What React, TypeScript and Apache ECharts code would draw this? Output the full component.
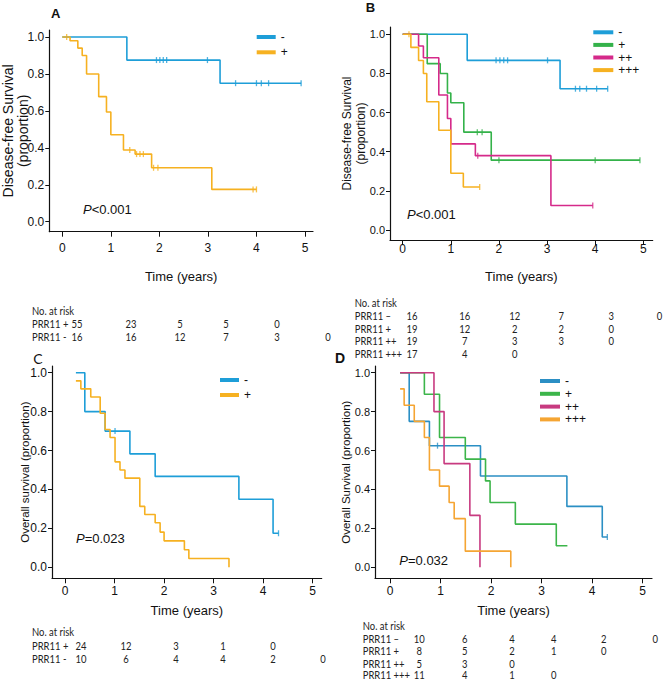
import React, { useEffect, useRef } from 'react';
import * as echarts from 'echarts';

// ---------------- Panel A: disease-free survival, PRR11 − / + ----------------
const aNegT = [0, 1.33, 3.25, 4.92];
const aNegS = [1, 0.875, 0.75, 0.75];
const aNegCens = [1.94, 2.01, 2.08, 2.15, 2.99, 3.57, 4.0, 4.1, 4.25, 4.92];
const aPosT = [0, 0.16, 0.32, 0.41, 0.5, 0.75, 0.91, 1.0, 1.26, 1.5, 1.84, 3.08, 4.0];
const aPosS = [1, 0.98, 0.94, 0.9, 0.8, 0.677, 0.594, 0.471, 0.388, 0.366, 0.292, 0.175, 0.175];
const aPosCens = [0.09, 1.39, 1.53, 1.6, 1.67, 1.88, 1.97, 3.93, 4.0];

// ---------------- Panel B: disease-free survival, − / + / ++ / +++ ----------------
const bNegT = [0, 1.34, 3.27, 4.26];
const bNegS = [1, 0.867, 0.722, 0.722];
const bNegCens = [1.94, 2.02, 2.1, 2.18, 3.01, 3.59, 3.68, 3.82, 4.03, 4.26];
const bP1T = [0, 0.51, 0.78, 0.93, 1.0, 1.27, 1.84, 4.93];
const bP1S = [1, 0.85, 0.8, 0.7, 0.65, 0.5, 0.357, 0.357];
const bP1Cens = [1.55, 1.65, 2.0, 4.0, 4.93];
const bP2T = [0, 0.33, 0.43, 0.75, 0.93, 1.0, 1.51, 3.08, 3.95];
const bP2S = [1, 0.94, 0.88, 0.69, 0.57, 0.44, 0.38, 0.125, 0.125];
const bP2Cens = [1.56, 3.95];
const bP3T = [0, 0.17, 0.33, 0.43, 0.5, 0.75, 1.0, 1.26, 1.6];
const bP3S = [1, 0.933, 0.866, 0.8, 0.655, 0.51, 0.29, 0.22, 0.22];
const bP3Cens = [0.13, 1.6];

// ---------------- Panel C: overall survival, − / + ----------------
const cNegT = [0.22, 0.4, 0.81, 1.31, 1.82, 3.51, 4.2, 4.31];
const cNegS = [1, 0.8, 0.7, 0.583, 0.467, 0.35, 0.175, 0.175];
const cNegCens = [1.01, 4.31];
const cPosT = [0.22, 0.32, 0.52, 0.71, 0.81, 0.91, 1.01, 1.11, 1.21, 1.51, 1.61, 1.82, 1.92, 2.0, 2.41, 2.5, 3.31];
const cPosS = [0.958, 0.917, 0.875, 0.792, 0.708, 0.667, 0.542, 0.5, 0.458, 0.313, 0.271, 0.229, 0.181, 0.136, 0.09, 0.045, 0];
const cPosCens: number[] = [];

// ---------------- Panel D: overall survival, − / + / ++ / +++ ----------------
const dNegT = [0.2, 0.38, 0.78, 1.79, 3.5, 4.2, 4.3];
const dNegS = [1, 0.75, 0.625, 0.469, 0.313, 0.156, 0.156];
const dNegCens = [0.94, 4.3];
const dP1T = [0.2, 0.68, 0.98, 1.49, 1.89, 1.98, 2.48, 3.29, 3.51];
const dP1S = [1, 0.889, 0.667, 0.556, 0.444, 0.333, 0.222, 0.111, 0.111];
const dP1Cens: number[] = [];
const dP2T = [0.2, 0.87, 1.07, 1.58, 1.78];
const dP2S = [1, 0.8, 0.533, 0.267, 0];
const dP2Cens: number[] = [];
const dP3T = [0.2, 0.28, 0.48, 0.68, 0.78, 0.98, 1.17, 1.27, 1.49, 2.39];
const dP3S = [0.917, 0.833, 0.75, 0.667, 0.5, 0.417, 0.333, 0.25, 0.083, 0];
const dP3Cens: number[] = [];

// ---------------- ticks, labels ----------------
const xTicks = [0, 1, 2, 3, 4, 5];
const yTicks = [0, 0.2, 0.4, 0.6, 0.8, 1.0];
const panelLetters = ['A', 'B', 'C', 'D'];
const pValues = ['<0.001', '<0.001', '=0.023', '=0.032'];
const yTitles = [
  'Disease-free Survival\n(proportion)',
  'Disease-free Survival\n(proportion)',
  'Overall survival (proportion)',
  'Overall Survival (proportion)',
];
const xTitle = 'Time (years)';

// ---------------- number-at-risk tables ----------------
const riskHeader = 'No. at risk';
const aRiskLabels = ['PRR11 +', 'PRR11 -'];
const aRiskRows = [[55, 23, 5, 5, 0], [16, 16, 12, 7, 3, 0]];
const bRiskLabels = ['PRR11 \u2013', 'PRR11 +', 'PRR11 ++', 'PRR11 +++'];
const bRiskRows = [[16, 16, 12, 7, 3, 0], [19, 12, 2, 2, 0], [19, 7, 3, 3, 0], [17, 4, 0]];
const cRiskLabels = ['PRR11 +', 'PRR11 -'];
const cRiskRows = [[24, 12, 3, 1, 0], [10, 6, 4, 4, 2, 0]];
const dRiskLabels = ['PRR11 \u2013', 'PRR11 +', 'PRR11 ++', 'PRR11 +++'];
const dRiskRows = [[10, 6, 4, 4, 2, 0], [8, 5, 2, 1, 0], [5, 3, 0], [11, 4, 1, 0]];

// ---------------- styling / layout ----------------
const AX_FONT = 'Liberation Sans, Arial, sans-serif';
const TB_FONT = 'Lato, sans-serif';
const BLUE = '#1e9ed8';
const ORANGE = '#f6b121';
const GREEN = '#34b24a';
const MAGENTA = '#d52a8a';
const BLUE_D = '#2b8fc4';
const ORANGE_D = '#f5a533';
const GREEN_D = '#3cb54a';
const MAGENTA_D = '#c83a80';

const layout = [
  { left: 49.3, right: 313, top: 30, bottom: 231.7, x0: 62.3, x5: 305, y0: 221.7, y1: 37,
    xLabelMargin: 10, xNameGap: 38, yLabelSize: 12, yNameGap: 19, yNameSize: 14, yNameLH: 15,
    letter: { x: 51, y: 13, size: 13, weight: 'bold' }, p: { x: 83, y: 209 },
    legend: { left: 256.7, top: 31, w: 19, gap: 3.3 } },
  { left: 390, right: 652.7, top: 27, bottom: 240, x0: 402.7, x5: 643.3, y0: 230, y1: 34.3,
    xLabelMargin: 3, xNameGap: 30, yLabelSize: 11, yNameGap: 22, yNameSize: 12, yNameLH: 14,
    letter: { x: 365.7, y: 7, size: 13, weight: 'bold' }, p: { x: 407, y: 214 },
    legend: { left: 593.3, top: 26.3, w: 20, gap: 0.6 } },
  { left: 52, right: 321.7, top: 366, bottom: 578.3, x0: 65, x5: 312.7, y0: 567.3, y1: 372.7,
    xLabelMargin: 7, xNameGap: 26, yLabelSize: 12, yNameGap: 20, yNameSize: 11.5, yNameLH: 14,
    letter: { x: 33.3, y: 358.3, size: 14, weight: 'normal' }, p: { x: 76, y: 538.3 },
    legend: { left: 220, top: 374, w: 19, gap: 3 } },
  { left: 375, right: 652, top: 366, bottom: 578.3, x0: 390, x5: 642.7, y0: 567.3, y1: 372.7,
    xLabelMargin: 7, xNameGap: 26, yLabelSize: 11, yNameGap: 21.7, yNameSize: 11.5, yNameLH: 14,
    letter: { x: 335, y: 358.3, size: 14, weight: 'bold' }, p: { x: 399.3, y: 560 },
    legend: { left: 540, top: 375, w: 20, gap: 0.8 } },
];

const tableLayout = [
  { x: 32, headY: 311, rowY: [323.3, 336.7], colX: [77, 131, 180, 226, 277, 328] },
  { x: 354.7, headY: 302.7, rowY: [315.7, 328.3, 340.7, 353.3], colX: [412, 464.7, 514.7, 561.3, 611.3, 659.5] },
  { x: 32, headY: 632, rowY: [645.7, 659], colX: [81, 126, 176, 223, 273, 323] },
  { x: 362.7, headY: 625.7, rowY: [639, 650.7, 663.3, 674.5], colX: [419.3, 464.7, 512, 553.7, 603.7, 655.3] },
];

function survAt(c: number, t: number[], s: number[]) {
  let v = s[0];
  for (let i = 0; i < t.length; i++) if (t[i] <= c + 1e-9) v = s[i];
  return v;
}

function curve(panel: number, key: string, t: number[], s: number[], cens: number[], color: string) {
  const name = panelLetters[panel] + '|' + key;
  return [
    {
      type: 'line', name, xAxisIndex: panel, yAxisIndex: panel,
      data: t.map((v, i) => [v, s[i]]), step: 'end', showSymbol: false, symbol: 'none',
      lineStyle: { width: 1.6, color }, itemStyle: { color }, silent: true,
    },
    {
      type: 'scatter', name: name + ' censored', xAxisIndex: panel, yAxisIndex: panel,
      data: cens.map((c) => [c, survAt(c, t, s)]), symbol: 'rect', symbolSize: [1.3, 6],
      itemStyle: { color }, silent: true,
    },
  ];
}

export default function App() {
  const ref = useRef<HTMLDivElement>(null);
  useEffect(() => {
    if (!ref.current) return;
    const chart = echarts.init(ref.current, undefined, { renderer: 'svg' });

    const series: any[] = [
      ...curve(0, '-', aNegT, aNegS, aNegCens, BLUE),
      ...curve(0, '+', aPosT, aPosS, aPosCens, ORANGE),
      ...curve(1, '-', bNegT, bNegS, bNegCens, BLUE),
      ...curve(1, '+', bP1T, bP1S, bP1Cens, GREEN),
      ...curve(1, '++', bP2T, bP2S, bP2Cens, MAGENTA),
      ...curve(1, '+++', bP3T, bP3S, bP3Cens, ORANGE),
      ...curve(2, '-', cNegT, cNegS, cNegCens, BLUE),
      ...curve(2, '+', cPosT, cPosS, cPosCens, ORANGE),
      ...curve(3, '-', dNegT, dNegS, dNegCens, BLUE_D),
      ...curve(3, '+', dP1T, dP1S, dP1Cens, GREEN_D),
      ...curve(3, '++', dP2T, dP2S, dP2Cens, MAGENTA_D),
      ...curve(3, '+++', dP3T, dP3S, dP3Cens, ORANGE_D),
    ];

    const legendKeys = [['-', '+'], ['-', '+', '++', '+++'], ['-', '+'], ['-', '+', '++', '+++']];

    const graphic: any[] = [];
    layout.forEach((p, i) => {
      graphic.push({
        type: 'text', x: p.letter.x, y: p.letter.y, silent: true,
        style: { text: panelLetters[i], fontSize: p.letter.size, fontWeight: p.letter.weight,
          fontFamily: i === 2 ? TB_FONT : AX_FONT, fill: '#111', align: 'left', verticalAlign: 'middle' },
      });
      graphic.push({
        type: 'text', x: p.p.x, y: p.p.y, silent: true,
        style: {
          text: '{i|P}{n|' + pValues[i] + '}', align: 'left', verticalAlign: 'middle',
          rich: {
            i: { fontStyle: 'italic', fontSize: 13, fontFamily: AX_FONT, fill: '#111' },
            n: { fontSize: 13, fontFamily: AX_FONT, fill: '#111' },
          },
        },
      });
    });
    const tables = [
      [aRiskLabels, aRiskRows], [bRiskLabels, bRiskRows], [cRiskLabels, cRiskRows], [dRiskLabels, dRiskRows],
    ] as [string[], number[][]][];
    tables.forEach(([labels, rows], k) => {
      const tl = tableLayout[k];
      const st = { fontSize: 11, fontFamily: TB_FONT, fill: '#222', verticalAlign: 'middle' };
      const sx = 0.86;
      graphic.push({ type: 'text', x: tl.x, y: tl.headY, scaleX: sx, silent: true, style: { ...st, text: riskHeader, align: 'left' } });
      labels.forEach((lab, r) => {
        graphic.push({ type: 'text', x: tl.x, y: tl.rowY[r], scaleX: sx, silent: true, style: { ...st, text: lab, align: 'left' } });
        rows[r].forEach((v, c) => {
          graphic.push({ type: 'text', x: tl.colX[c], y: tl.rowY[r], scaleX: sx, silent: true, style: { ...st, text: String(v), align: 'center' } });
        });
      });
    });

    const option: any = {
      animation: false,
      backgroundColor: '#ffffff',
      grid: layout.map((p) => ({
        left: p.left, top: p.top, width: p.right - p.left, height: p.bottom - p.top,
        containLabel: false, outerBoundsMode: 'none',
      })),
      xAxis: layout.map((p, i) => {
        const ppu = (p.x5 - p.x0) / 5;
        return {
          type: 'value', gridIndex: i,
          min: (p.left - p.x0) / ppu, max: (p.right - p.x0) / ppu,
          name: xTitle, nameLocation: 'middle', nameGap: p.xNameGap, nameMoveOverlap: false,
          nameTextStyle: { fontSize: 13, fontWeight: 'normal', color: '#111', fontFamily: AX_FONT },
          axisLine: { show: true, onZero: false, lineStyle: { color: '#111', width: 1.2 } },
          axisTick: { show: true, customValues: xTicks, length: 5, lineStyle: { color: '#111', width: 1 } },
          axisLabel: { show: true, customValues: xTicks, fontSize: 12, margin: p.xLabelMargin, color: '#111', fontFamily: AX_FONT },
          splitLine: { show: false },
        };
      }),
      yAxis: layout.map((p, i) => {
        const ppu = p.y0 - p.y1;
        return {
          type: 'value', gridIndex: i,
          min: -(p.bottom - p.y0) / ppu, max: (p.y0 - p.top) / ppu,
          name: yTitles[i], nameLocation: 'middle', nameRotate: 90, nameGap: p.yNameGap, nameMoveOverlap: false,
          nameTextStyle: { fontSize: p.yNameSize, fontWeight: 'normal', lineHeight: p.yNameLH, color: '#111', fontFamily: AX_FONT },
          axisLine: { show: true, onZero: false, lineStyle: { color: '#111', width: 1.2 } },
          axisTick: { show: true, customValues: yTicks, length: 4, lineStyle: { color: '#111', width: 1 } },
          axisLabel: {
            show: true, customValues: yTicks, fontSize: p.yLabelSize, margin: 5, color: '#111', fontFamily: AX_FONT,
            formatter: (v: number) => v.toFixed(1),
          },
          splitLine: { show: false },
        };
      }),
      legend: layout.map((p, i) => ({
        show: true, orient: 'vertical', left: p.legend.left, top: p.legend.top, padding: 0,
        itemWidth: p.legend.w, itemHeight: 4, itemGap: p.legend.gap, icon: 'rect', selectedMode: false,
        data: legendKeys[i].map((k) => panelLetters[i] + '|' + k),
        formatter: (n: string) => n.split('|')[1],
        textStyle: { fontSize: 12, lineHeight: 12, color: '#111', fontFamily: AX_FONT },
      })),
      graphic,
      series,
    };
    chart.setOption(option);
    return () => chart.dispose();
  }, []);

  return <div ref={ref} style={{ position: 'absolute', left: 0, top: 0, width: 664, height: 680, background: '#fff' }} />;
}
